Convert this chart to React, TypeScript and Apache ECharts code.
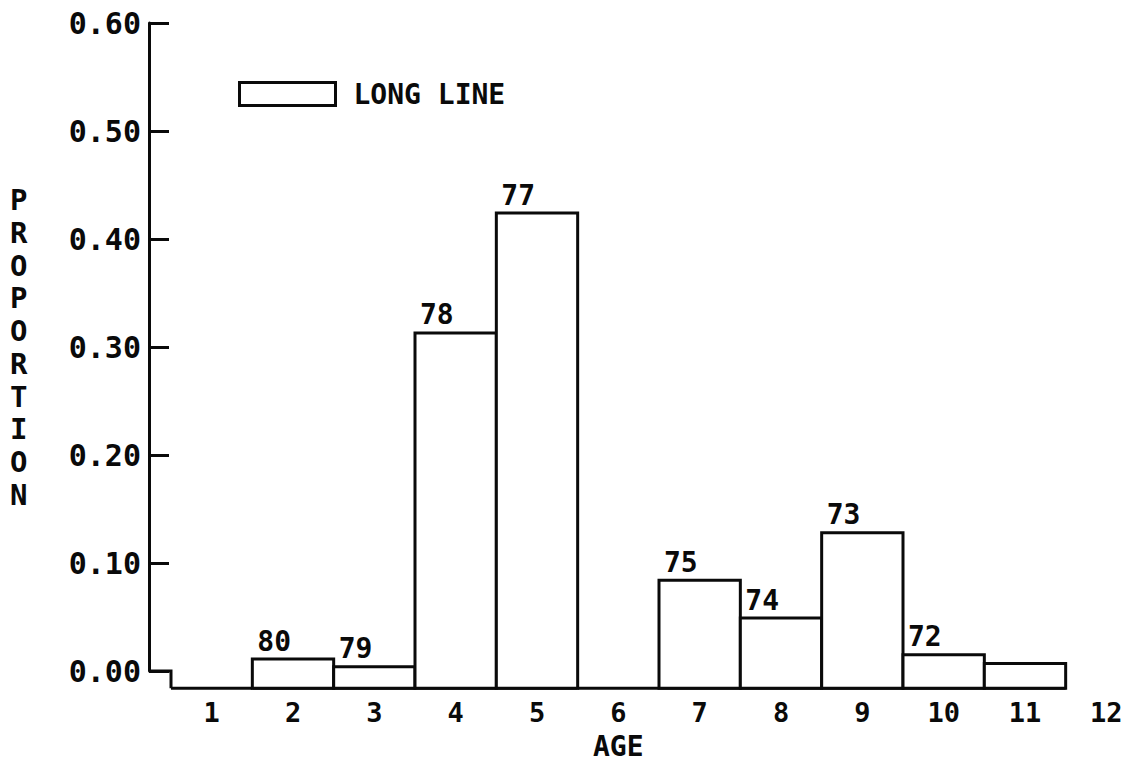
import React, { useEffect, useRef } from "react";
import * as echarts from "echarts";

const AGES = ["1", "2", "3", "4", "5", "6", "7", "8", "9", "10", "11", "12"];
const PROPORTION = [0, 0.011, 0.004, 0.313, 0.424, 0, 0.084, 0.049, 0.128, 0.015, 0.007];
const YEAR_LABELS = ["", "80", "79", "78", "77", "", "75", "74", "73", "72", ""];
const SERIES_NAME = "LONG LINE";
const Y_MIN = 0;
const Y_MAX = 0.6;
const Y_STEP = 0.1;
const BAR_BASE = -0.016;

const FONT = "'DejaVu Sans Mono', 'Liberation Mono', monospace";
const INK = "#0a0a0a";
const Y_OFFSET = 22;

export default function App() {
  const ref = useRef<HTMLDivElement>(null);

  useEffect(() => {
    if (!ref.current) return;
    const chart = echarts.init(ref.current, null, { renderer: "svg" });

    const data = PROPORTION.map((v, i) => [i, v]);

    const option: any = {
      animation: false,
      backgroundColor: "#ffffff",
      grid: {
        left: 171,
        right: -25,
        top: 23,
        bottom: 90,
        containLabel: false,
        outerBoundsMode: "none",
      },
      legend: {
        data: [SERIES_NAME],
        left: 238,
        top: 80,
        padding: 0,
        icon: "rect",
        itemWidth: 96,
        itemHeight: 23,
        selectedMode: false,
        itemStyle: { color: "#ffffff", borderColor: INK, borderWidth: 3 },
        textStyle: {
          fontFamily: FONT,
          fontWeight: "bold",
          fontSize: 28,
          color: INK,
          padding: [0, 0, 0, 13],
        },
      },
      xAxis: {
        type: "category",
        data: AGES,
        axisLine: { show: false },
        axisTick: { show: false },
        splitLine: { show: false },
        axisLabel: {
          margin: 30,
          fontFamily: FONT,
          fontWeight: "bold",
          fontSize: 27,
          lineHeight: 22,
          color: INK,
        },
      },
      yAxis: {
        type: "value",
        min: Y_MIN,
        max: Y_MAX,
        interval: Y_STEP,
        offset: Y_OFFSET,
        splitLine: { show: false },
        axisLine: { show: true, lineStyle: { color: INK, width: 3 } },
        axisTick: { show: true, inside: true, length: 20, lineStyle: { color: INK, width: 3 } },
        axisLabel: {
          margin: 8,
          fontFamily: FONT,
          fontWeight: "bold",
          fontSize: 30,
          color: INK,
          formatter: (v: number) => v.toFixed(2),
        },
      },
      series: [
        {
          name: SERIES_NAME,
          type: "custom",
          clip: false,
          itemStyle: { color: "#ffffff", borderColor: INK, borderWidth: 3 },
          encode: { x: 0, y: 1 },
          data,
          renderItem: (params: any, api: any) => {
            const idx = params.dataIndex;
            const xi = api.value(0);
            const v = api.value(1);
            const top = api.coord([xi, v]);
            const base = api.coord([xi, BAR_BASE]);
            const zero = api.coord([xi, 0]);
            const w = api.size([1, 0])[0];
            const left = top[0] - w / 2;
            const stroke = { stroke: INK, lineWidth: 3, fill: null };
            const children: any[] = [];
            children.push({
              type: "line",
              shape: { x1: left, y1: base[1], x2: left + w, y2: base[1] },
              style: { ...stroke },
            });
            if (v > 0) {
              children.push({
                type: "rect",
                shape: { x: left, y: top[1], width: w, height: base[1] - top[1] },
                style: { stroke: INK, lineWidth: 3, fill: "#ffffff" },
              });
            }
            if (idx === 0) {
              children.push({
                type: "polyline",
                shape: {
                  points: [
                    [left - Y_OFFSET, zero[1]],
                    [left, zero[1]],
                    [left, base[1]],
                  ],
                },
                style: { ...stroke },
              });
            }
            const lbl = YEAR_LABELS[idx];
            if (lbl) {
              children.push({
                type: "text",
                style: {
                  text: lbl,
                  x: left + 5,
                  y: top[1] - 4,
                  align: "left",
                  verticalAlign: "bottom",
                  fontFamily: FONT,
                  fontWeight: "bold",
                  fontSize: 28,
                  fill: INK,
                },
              });
            }
            return { type: "group", children };
          },
        },
      ],
      graphic: [
        {
          type: "text",
          left: 10,
          top: 184,
          style: {
            text: "P\nR\nO\nP\nO\nR\nT\nI\nO\nN",
            fontFamily: FONT,
            fontWeight: "bold",
            fontSize: 29,
            lineHeight: 32.7,
            fill: INK,
            align: "center",
          },
        },
        {
          type: "text",
          left: 593,
          top: 732,
          style: {
            text: "AGE",
            fontFamily: FONT,
            fontWeight: "bold",
            fontSize: 28,
            lineHeight: 22,
            fill: INK,
          },
        },
      ],
    };

    chart.setOption(option);
    return () => chart.dispose();
  }, []);

  return (
    <div
      ref={ref}
      style={{ position: "fixed", left: 0, top: 0, width: "1122px", height: "761px", background: "#fff" }}
    />
  );
}
